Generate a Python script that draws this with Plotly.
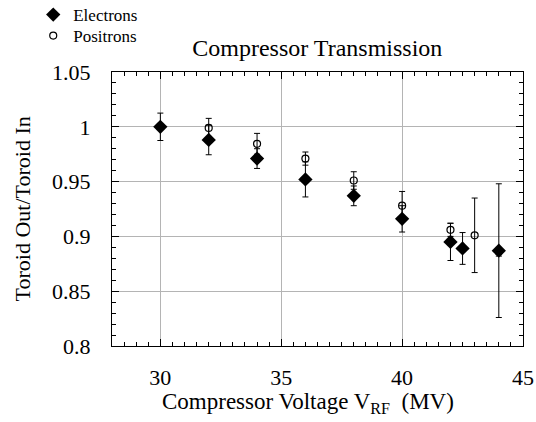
import plotly.graph_objects as go

# Electrons
e_x = [30, 32, 34, 36, 38, 40, 42, 42.5, 44]
e_y = [1.000, 0.988, 0.971, 0.952, 0.937, 0.916, 0.895, 0.889, 0.887]
e_err = [0.0125, 0.0135, 0.009, 0.016, 0.009, 0.012, 0.017, 0.0145, 0.061]

# Positrons
p_x = [32, 34, 36, 38, 40, 42, 43, 44]
p_y = [0.999, 0.9845, 0.971, 0.951, 0.928, 0.906, 0.901, 0.886]
p_err = [0.0087, 0.0095, 0.006, 0.008, 0.013, 0.006, 0.034, 0.004]

x_ticks = [30, 35, 40, 45]
y_ticks = [0.8, 0.85, 0.9, 0.95, 1.0, 1.05]
y_ticklabels = ["0.8", "0.85", "0.9", "0.95", "1", "1.05"]

FONT = "Liberation Serif, Times New Roman, serif"

fig = go.Figure()
fig.add_trace(go.Scatter(
    x=p_x, y=p_y, mode="markers", name="Positrons", legend="legend2",
    marker=dict(symbol="circle-open", size=7, color="black", line=dict(width=1.2)),
    error_y=dict(type="data", array=p_err, color="black", thickness=1, width=3),
))
fig.add_trace(go.Scatter(
    x=e_x, y=e_y, mode="markers", name="Electrons", legend="legend",
    marker=dict(symbol="diamond", size=11, color="black"),
    error_y=dict(type="data", array=e_err, color="black", thickness=1, width=3),
))

axis_common = dict(
    showline=True, linecolor="black", linewidth=1, mirror="ticks",
    ticks="inside", ticklen=7, tickcolor="black",
    showgrid=True, gridcolor="#b4b4b4", gridwidth=1,
    zeroline=False, automargin=False,
    tickfont=dict(family=FONT, size=22, color="black"),
)

fig.update_xaxes(
    range=[28, 45], tickvals=x_ticks, ticklabelstandoff=12,
    minor=dict(dtick=0.5, ticklen=4, ticks="inside", tickcolor="black", showgrid=False),
    **axis_common,
)
fig.update_yaxes(
    range=[0.8, 1.05], tickvals=y_ticks, ticktext=y_ticklabels, ticklabelstandoff=16,
    minor=dict(dtick=0.01, ticklen=4, ticks="inside", tickcolor="black", showgrid=False),
    **axis_common,
)

fig.add_annotation(
    text="Compressor Voltage V<sub>RF</sub>&nbsp;&nbsp;(MV)",
    xref="paper", yref="paper", x=0.476, y=-0.148, xanchor="center", yanchor="top",
    showarrow=False, font=dict(family=FONT, size=23, color="black"),
)
fig.add_annotation(
    text="Toroid Out/Toroid In",
    xref="paper", yref="paper", x=-0.218, y=0.5, xanchor="center", yanchor="middle",
    textangle=-90, showarrow=False, font=dict(family=FONT, size=22, color="black"),
)

legend_common = dict(
    xref="container", yref="container", xanchor="left", yanchor="middle",
    font=dict(family=FONT, size=17, color="black"),
    bgcolor="rgba(0,0,0,0)", itemwidth=30,
)

fig.update_layout(
    width=536, height=422,
    margin=dict(l=112, r=13, t=72, b=76, autoexpand=False),
    paper_bgcolor="white", plot_bgcolor="white",
    font=dict(family=FONT, color="black"),
    title=dict(text="Compressor Transmission", x=0.592, xanchor="center",
               y=0.888, yanchor="middle",
               font=dict(family=FONT, size=24, color="black")),
    legend=dict(x=0.062, y=1 - 15 / 422, **legend_common),
    legend2=dict(x=0.062, y=1 - 36 / 422, **legend_common),
    showlegend=True,
)

fig.write_html("out.html", post_script="document.body.style.margin='0';",
               config={"displayModeBar": False})
